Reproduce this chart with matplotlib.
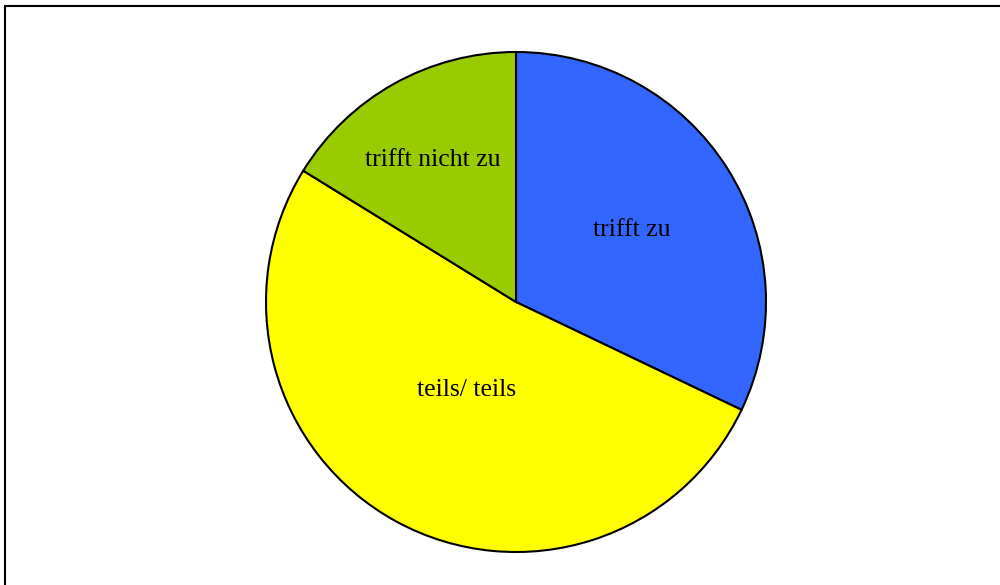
import numpy as np
import matplotlib
matplotlib.use('Agg')
import matplotlib.pyplot as plt
from matplotlib.patches import Rectangle

labels = ['trifft zu', 'teils/ teils', 'trifft nicht zu']
values = [32.1, 51.7, 16.2]
colors = ['#3366FF', '#FFFF00', '#99CC00']
label_dist = [0.56, 0.39, 0.66]

plt.rcParams['font.family'] = ['Liberation Serif', 'DejaVu Serif']

fig = plt.figure(figsize=(10, 5.85), dpi=100)
# frame round the chart area
fig.patches.append(Rectangle((0.005, -0.1), 1.2, 1.09, transform=fig.transFigure,
                             fill=False, edgecolor='black', linewidth=1.5))

ax = fig.add_axes([0.266, 0.0564, 0.5, 0.8547])
wedges, _ = ax.pie(values, colors=colors, startangle=90, counterclock=False,
                   wedgeprops=dict(edgecolor='black', linewidth=1.5))

for w, lab, d in zip(wedges, labels, label_dist):
    mid = np.deg2rad((w.theta1 + w.theta2) / 2)
    ax.text(d * np.cos(mid) - 0.01, d * np.sin(mid) - 0.01, lab,
            ha='center', va='center', fontsize=18.5)

ax.set_xlim(-1, 1)
ax.set_ylim(-1, 1)
ax.set_aspect('equal')
ax.axis('off')

fig.savefig('out.png', dpi=100)
